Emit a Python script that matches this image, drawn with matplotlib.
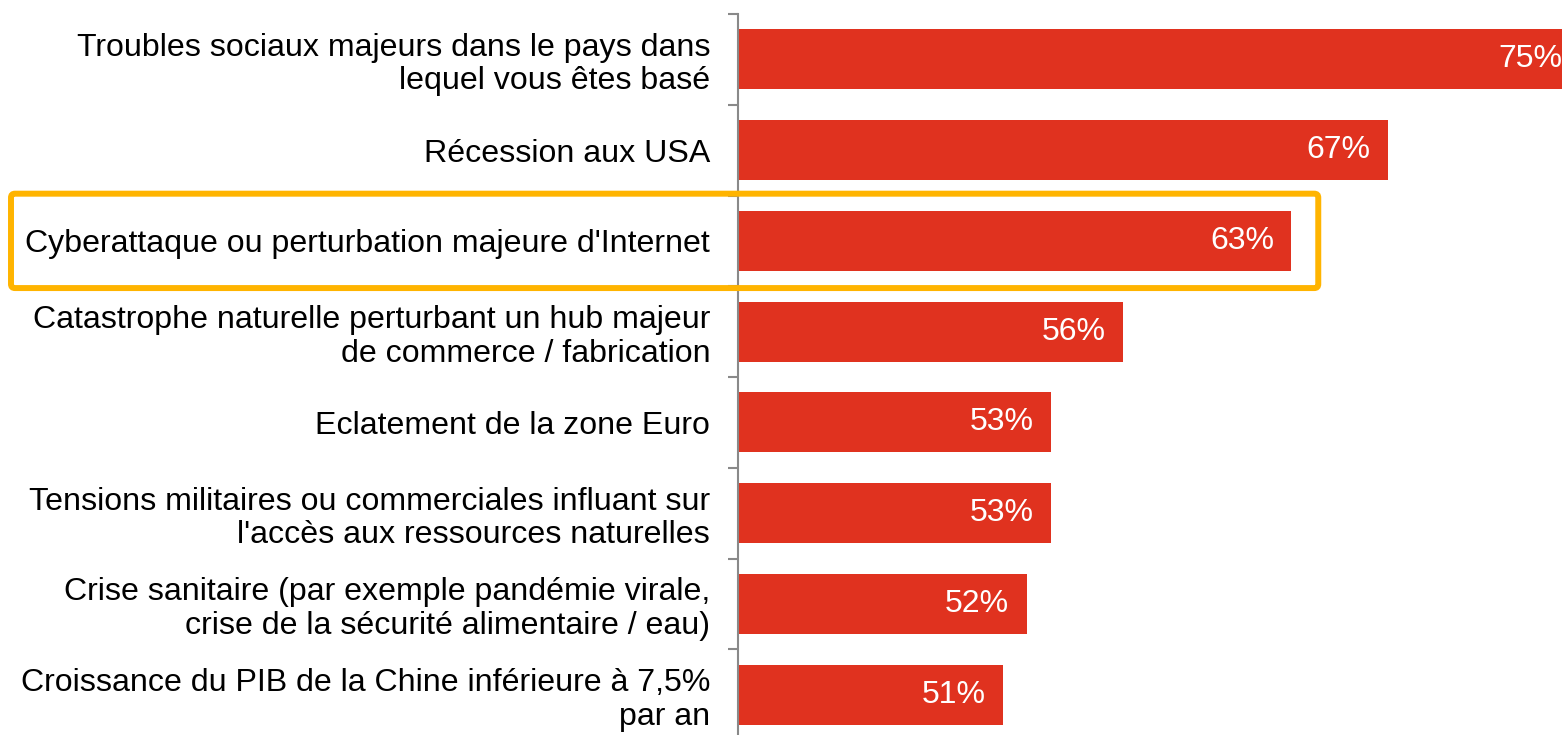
import matplotlib.pyplot as plt
from matplotlib.patches import FancyBboxPatch
from matplotlib.ticker import FixedLocator

plt.rcParams['font.family'] = ['Liberation Sans', 'DejaVu Sans']

# risques cités par les dirigeants
categories = [
    "Troubles sociaux majeurs dans le pays dans\nlequel vous êtes basé",
    "Récession aux USA",
    "Cyberattaque ou perturbation majeure d'Internet",
    "Catastrophe naturelle perturbant un hub majeur\nde commerce / fabrication",
    "Eclatement de la zone Euro",
    "Tensions militaires ou commerciales influant sur\nl'accès aux ressources naturelles",
    "Crise sanitaire (par exemple pandémie virale,\ncrise de la sécurité alimentaire / eau)",
    "Croissance du PIB de la Chine inférieure à 7,5%\npar an",
]
values = [75, 67, 63, 56, 53, 53, 52, 51]
value_labels = ["75%", "67%", "63%", "56%", "53%", "53%", "52%", "51%"]
highlight = 2  # cyberattaque

W, H = 1562, 735
fig = plt.figure(figsize=(W / 100, H / 100), dpi=100)
ax = fig.add_axes([738 / W, (735 - 740) / H, 842 / W, 726 / H])

red = "#E0321F"
gray = "#898989"
pos = list(range(len(categories)))
ax.barh(pos, [v - 40 for v in values], left=40, height=0.66, color=red)
ax.set_xlim(40, 75)
ax.set_ylim(len(categories) - 0.5, -0.5)

for p, v, lab in zip(pos, values, value_labels):
    ax.annotate(lab, (v, p), xytext=(-12.5, 0), textcoords="offset points",
                ha="right", va="center", color="white", fontsize=23,
                annotation_clip=False)

for s in ["top", "right", "bottom"]:
    ax.spines[s].set_visible(False)
ax.spines["left"].set_color(gray)
ax.spines["left"].set_linewidth(1.5)
ax.set_xticks([])
ax.set_yticks(pos)
ax.set_yticklabels(categories, fontsize=23.1, linespacing=1.15)
ax.tick_params(axis="y", which="major", length=0, pad=20)
ax.yaxis.set_minor_locator(FixedLocator([p - 0.5 for p in pos] + [len(pos) - 0.5]))
ax.tick_params(axis="y", which="minor", length=7, width=1.5, color=gray, direction="out")

# cadre orange autour de la ligne mise en avant
fig.canvas.draw()
x1, y1 = ax.transData.transform((values[highlight] + 1.12, highlight - 0.52))
x0, y0 = ax.transData.transform((40, highlight + 0.52))
x0 = 11
box = FancyBboxPatch((x0, y0), x1 - x0, y1 - y0, boxstyle="round,pad=0,rounding_size=4",
                     transform=None, fill=False, edgecolor="#FFB400", linewidth=4.3,
                     zorder=5)
fig.patches.append(box)

fig.savefig("out.png", dpi=100)
